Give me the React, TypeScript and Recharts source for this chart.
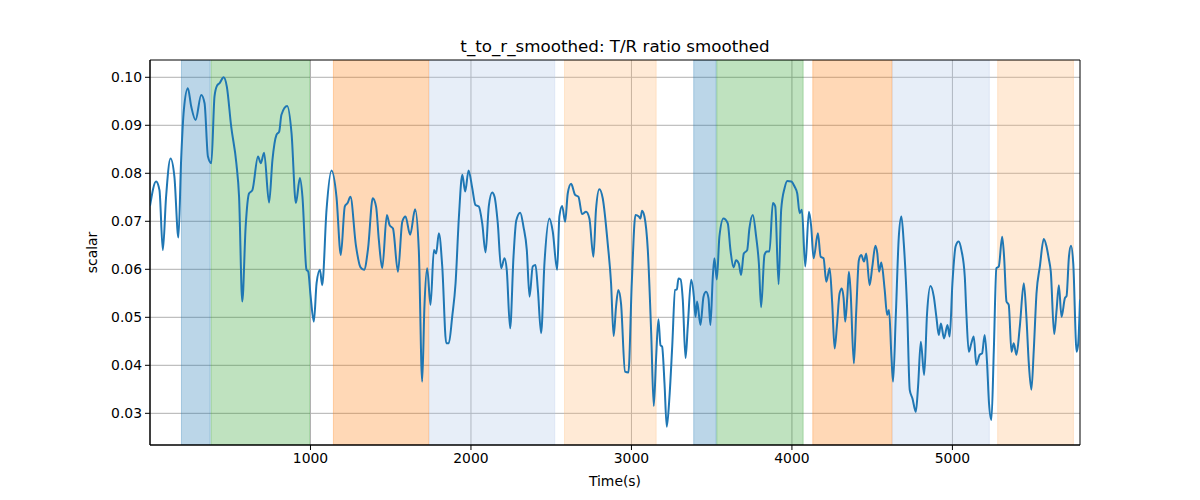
import { LineChart, Line, XAxis, YAxis, CartesianGrid, ReferenceArea } from 'recharts';

// time (s) samples
const times = [
    0, 38, 59, 80, 100, 128, 152, 177, 194, 211, 236, 257, 284, 319, 340, 361, 382, 402, 417, 434,
    459, 479, 506, 538, 555, 575, 596, 617, 638, 673, 690, 711, 742, 763, 788, 805, 819, 855, 882, 909,
    934, 950, 975, 986, 1000, 1021, 1038, 1059, 1073, 1100, 1131, 1162, 1189, 1214, 1231, 1249, 1283, 1312, 1334, 1359,
    1388, 1409, 1426, 1447, 1476, 1493, 1514, 1545, 1572, 1592, 1621, 1652, 1675, 1696, 1710, 1727, 1748, 1769, 1783, 1800,
    1821, 1846, 1862, 1883, 1904, 1925, 1946, 1964, 1985, 2008, 2028, 2049, 2070, 2091, 2111, 2132, 2147, 2167, 2188, 2209,
    2223, 2244, 2265, 2282, 2307, 2327, 2348, 2365, 2385, 2402, 2417, 2437, 2458, 2489, 2510, 2537, 2551, 2568, 2587, 2603,
    2624, 2649, 2670, 2692, 2717, 2738, 2763, 2779, 2800, 2821,
    2852, 2873, 2889, 2904, 2918, 2935, 2960, 2981, 3002, 3025, 3046, 3056, 3066, 3081, 3102, 3123, 3139, 3154, 3168, 3181,
    3191, 3206, 3220, 3237, 3254, 3272, 3283, 3293, 3306, 3320, 3337, 3351, 3372, 3389, 3399, 3409, 3430, 3449, 3465, 3480,
    3492, 3507, 3517, 3532, 3548, 3573, 3600, 3617, 3636, 3652, 3669, 3683, 3700, 3721, 3735, 3756, 3777, 3794, 3808, 3829,
    3844, 3860, 3881, 3896, 3917, 3933, 3954, 3971, 3996, 4017, 4033, 4048, 4062, 4083, 4106, 4120, 4135, 4162, 4179, 4197,
    4214, 4235,
    4251, 4266, 4280, 4297, 4311, 4322, 4332, 4345, 4355, 4365, 4386, 4401, 4417, 4432, 4449, 4463, 4484, 4501, 4520, 4532,
    4543, 4557, 4578, 4593, 4605, 4620, 4630, 4647, 4666, 4682, 4697, 4718, 4734, 4751, 4772, 4786, 4803, 4824, 4842, 4863,
    4884, 4900, 4915, 4928, 4948, 4969, 4983, 5000, 5020, 5039, 5056, 5077, 5087, 5102, 5118, 5133, 5149, 5170, 5185, 5201,
    5216, 5228, 5243, 5258, 5274, 5289, 5310, 5322, 5337, 5351, 5368, 5382, 5399, 5420, 5445, 5461, 5476, 5492, 5507, 5524,
    5545, 5569, 5586, 5600, 5613, 5634, 5649, 5663, 5680, 5701, 5711, 5726, 5739, 5753, 5774, 5784, 5795,
];

const ratio = [
    0.0732, 0.0783, 0.0765, 0.064, 0.075, 0.0831, 0.0793, 0.0666, 0.0828, 0.0932, 0.0977, 0.0939, 0.0911, 0.0963, 0.0946, 0.0835, 0.0821, 0.096, 0.0982, 0.0988,
    0.100, 0.098, 0.0897, 0.0821, 0.0751, 0.0533, 0.0689, 0.0758, 0.0765, 0.0835, 0.0821, 0.0843, 0.0739, 0.0828, 0.088, 0.0887, 0.0922, 0.094, 0.0883, 0.0738,
    0.079, 0.0751, 0.0599, 0.0595, 0.0547, 0.0491, 0.0571, 0.0599, 0.0567, 0.0724, 0.0806, 0.0751, 0.063, 0.0731, 0.0738, 0.0751, 0.065, 0.0604, 0.0599, 0.0644,
    0.0748, 0.073, 0.0661, 0.0602, 0.0713, 0.0692, 0.0685, 0.0595, 0.0699, 0.071, 0.0672, 0.0725, 0.064, 0.0366, 0.0522, 0.0602, 0.0526, 0.064, 0.0633, 0.0675,
    0.0606, 0.0446, 0.0446, 0.0501, 0.0571, 0.071, 0.0797, 0.0762, 0.0806, 0.0769, 0.0734, 0.0731, 0.0696, 0.0635, 0.0731, 0.076, 0.0751, 0.0696, 0.0602, 0.0623,
    0.0599, 0.0477, 0.0626, 0.0701, 0.0718, 0.0689, 0.064, 0.0543, 0.0606, 0.0609, 0.0557, 0.0467, 0.0613, 0.0706, 0.0678, 0.0599, 0.071, 0.0732, 0.0699, 0.0758,
    0.0778, 0.0755, 0.0751, 0.0715, 0.072, 0.0706, 0.0626, 0.0724, 0.0767, 0.0748,
    0.0654, 0.0571, 0.0461, 0.0522, 0.0557, 0.0529, 0.0387, 0.0385, 0.0571, 0.0713, 0.071, 0.0706, 0.0722, 0.071, 0.064, 0.0467, 0.0315, 0.0418, 0.0496, 0.0442,
    0.0439, 0.0362, 0.0272, 0.0335, 0.0439, 0.0557, 0.0558, 0.0581, 0.0579, 0.0536, 0.0415, 0.0481, 0.0578, 0.0543, 0.0501, 0.0533, 0.0484, 0.0543, 0.0553, 0.054,
    0.0484, 0.0585, 0.0623, 0.0579, 0.0668, 0.0706, 0.0696, 0.064, 0.0604, 0.0619, 0.0612, 0.0588, 0.0633, 0.064, 0.0685, 0.0713, 0.0668, 0.0612, 0.0521, 0.063,
    0.0637, 0.0637, 0.0738, 0.0731, 0.0569, 0.0724, 0.0769, 0.0784, 0.0783, 0.0772, 0.0758, 0.0717, 0.0724, 0.0606, 0.072, 0.0689, 0.0623, 0.0675, 0.0626, 0.0623,
    0.0574, 0.0602,
    0.0529, 0.0435, 0.0481, 0.055, 0.056, 0.054, 0.0491, 0.0543, 0.0595, 0.0557, 0.0404, 0.0515, 0.0619, 0.063, 0.0616, 0.0633, 0.0567, 0.0606, 0.0649, 0.0633,
    0.0595, 0.0614, 0.0557, 0.0505, 0.0515, 0.0418, 0.0366, 0.0501, 0.0668, 0.071, 0.0654, 0.0515, 0.0349, 0.0331, 0.0303, 0.0356, 0.0449, 0.038, 0.0508, 0.0565,
    0.0543, 0.0501, 0.0463, 0.0487, 0.0456, 0.0484, 0.046, 0.0571, 0.0648, 0.0658, 0.064, 0.0585, 0.0508, 0.0428, 0.0446, 0.046, 0.0401, 0.0422, 0.0425, 0.0463,
    0.0404, 0.0321, 0.0286, 0.0432, 0.0602, 0.0606, 0.0668, 0.0626, 0.0533, 0.0526, 0.0428, 0.0446, 0.0422, 0.0481, 0.0571, 0.0501, 0.0404, 0.0349, 0.0432, 0.055,
    0.0606, 0.0663, 0.0648, 0.0623, 0.0595, 0.0465, 0.0515, 0.0567, 0.0501, 0.054, 0.0544, 0.0626, 0.0649, 0.0612, 0.0428, 0.0446, 0.0537,
];

// shaded phases: [start, end, colour]
const bandStarts = [196, 381, 1143, 1741, 2583, 3388, 3532, 4130, 4626, 5282];
const bandEnds = [375, 994, 1737, 2522, 3154, 3528, 4070, 4624, 5230, 5754];
const bandColors = ['#1f77b4', '#2ca02c', '#ff7f0e', '#aec7e8', '#ffbb78', '#1f77b4', '#2ca02c', '#ff7f0e', '#aec7e8', '#ffbb78'];

const xTicks = [1000, 2000, 3000, 4000, 5000];
const yTicks = [0.03, 0.04, 0.05, 0.06, 0.07, 0.08, 0.09, 0.10];

const X_DOMAIN: [number, number] = [0, 5795];
const Y_DOMAIN: [number, number] = [0.0234, 0.1036];

const data = times.map((t, i) => ({ t, v: ratio[i] }));

const font = '"DejaVu Sans", sans-serif';
const tickStyle = { fill: '#000', fontSize: 13.9, fontFamily: font };

export default function App() {
    return (
        <div style={{ position: 'absolute', left: 0, top: 0, width: 1200, height: 500, background: '#fff' }}>
            <div style={{
                position: 'absolute', left: 150, width: 930, top: 36, textAlign: 'center',
                fontFamily: font, fontSize: 16.7, color: '#000', lineHeight: '20px',
            }}>
                t_to_r_smoothed: T/R ratio smoothed
            </div>
            <LineChart width={1200} height={500} data={data} margin={{ top: 60, right: 120, bottom: 25, left: 90 }}>
                {bandStarts.map((s, i) => (
                    <ReferenceArea
                        key={i}
                        x1={s}
                        x2={bandEnds[i]}
                        fill={bandColors[i]}
                        fillOpacity={0.3}
                        stroke={bandColors[i]}
                        strokeOpacity={0.3}
                        ifOverflow="hidden"
                    />
                ))}
                <CartesianGrid stroke="#b0b0b0" strokeWidth={1} horizontalValues={yTicks} verticalValues={xTicks} />
                <XAxis
                    dataKey="t"
                    type="number"
                    domain={X_DOMAIN}
                    ticks={xTicks}
                    allowDataOverflow
                    height={30}
                    tick={tickStyle}
                    tickSize={5}
                    tickMargin={3}
                    axisLine={{ stroke: '#000' }}
                    tickLine={{ stroke: '#000' }}
                    label={{ value: 'Time(s)', position: 'bottom', offset: 1, style: { fill: '#000', fontSize: 13.9, fontFamily: font } }}
                />
                <YAxis
                    type="number"
                    domain={Y_DOMAIN}
                    ticks={yTicks}
                    allowDataOverflow
                    width={60}
                    tick={tickStyle}
                    tickSize={5}
                    tickMargin={3}
                    tickFormatter={(v: number) => v.toFixed(2)}
                    axisLine={{ stroke: '#000' }}
                    tickLine={{ stroke: '#000' }}
                    label={{ value: 'scalar', angle: -90, position: 'insideLeft', offset: 2, style: { fill: '#000', fontSize: 13.9, fontFamily: font, textAnchor: 'middle' } }}
                />
                <Line
                    type="monotone"
                    dataKey="v"
                    stroke="#1f77b4"
                    strokeWidth={2}
                    dot={false}
                    activeDot={false}
                    isAnimationActive={false}
                />
                {/* axes frame */}
                <ReferenceArea x1={X_DOMAIN[0]} x2={X_DOMAIN[1]} y1={Y_DOMAIN[0]} y2={Y_DOMAIN[1]} fill="none" stroke="#000" strokeWidth={1} />
            </LineChart>
        </div>
    );
}
